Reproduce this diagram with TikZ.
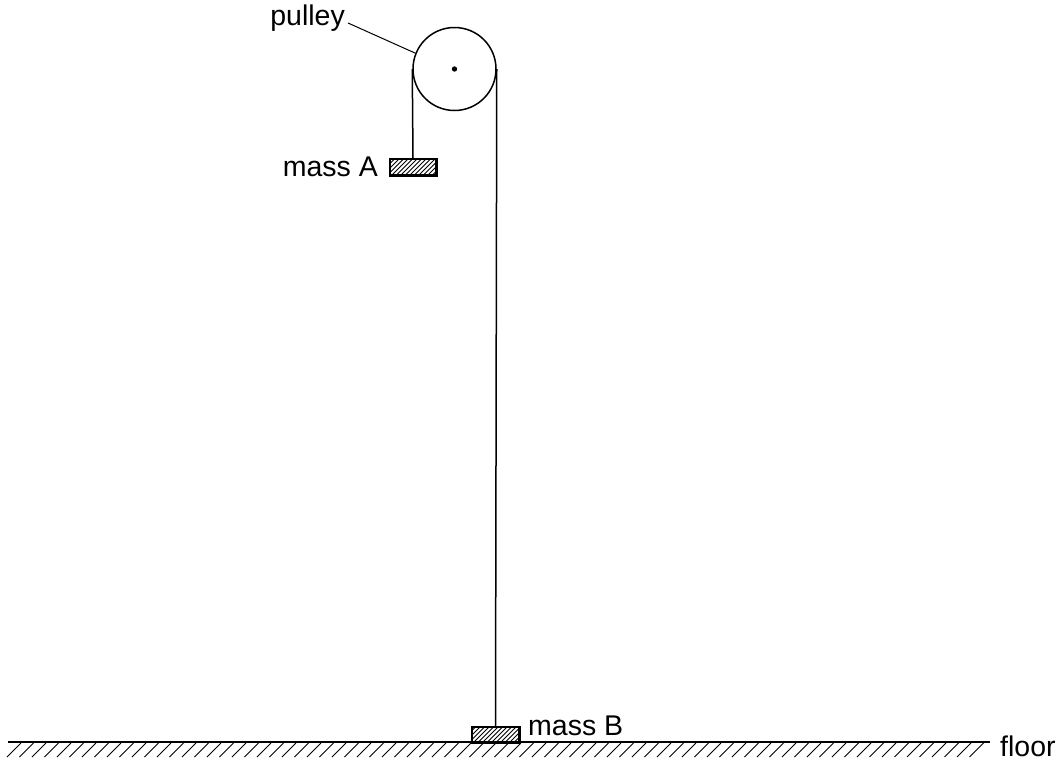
\documentclass[tikz,border=0pt]{standalone}
\usepackage{fontspec}
\setmainfont{Liberation Sans}
\usetikzlibrary{calc}
\begin{document}
\begin{tikzpicture}[x=1pt,y=-1pt,
  rope/.style={line width=1.5pt},
  massbox/.style={draw,line width=1.5pt,rectangle,inner sep=0pt},
  lbl/.style={font=\fontsize{28.5}{32}\selectfont,inner sep=0pt},
  hatch/.style={line width=0.9pt}]
\useasboundingbox (0,0) rectangle (1061,763);
% pulley
\node[circle,draw,line width=1.5pt,minimum size=83pt,inner sep=0pt] (pulley) at (454.5,69) {};
\fill (pulley.center) circle (2.7pt);
% masses
\node[massbox,minimum width=46pt,minimum height=16pt] (massA) at (413,167) {};
\node[massbox,minimum width=47pt,minimum height=15pt] (massB) at (495.5,734.5) {};
\begin{scope}
\clip (massA.south west) rectangle (massA.north east);
\foreach \i in {0,...,18} {\draw[hatch] ($(massA.south west)+(\i*4.5-16,0)$) -- ++(16,-16);}
\end{scope}
\begin{scope}
\clip (massB.south west) rectangle (massB.north east);
\foreach \i in {0,...,18} {\draw[hatch] ($(massB.south west)+(\i*4.5-16,0)$) -- ++(16,-16);}
\end{scope}
\draw[massbox] (massA.south west) rectangle (massA.north east);
\draw[massbox] (massB.south west) rectangle (massB.north east);
% ropes
\draw[rope] (pulley.west) -- (massA.north);
\draw[rope] (pulley.east) -- (massB.north);
% floor
\coordinate (fl) at (8,742);
\coordinate (fr) at (990,742);
\draw[line width=2pt] (fl) -- (fr);
\foreach \x in {7,19.5,...,975} {\draw[hatch] (\x,757) -- ++(14,-14);}
% labels
\node[lbl,anchor=base east] (pl) at (345,25) {pulley};
\draw[line width=1pt] ($(pl.base east)+(3,-2)$) -- (pulley.158);
\node[lbl,anchor=base east] (la) at (378,176) {mass A};
\node[lbl,anchor=base west] (lb) at (528,735) {mass B};
\node[lbl,anchor=base west] (lf) at (1000,756) {floor};
\end{tikzpicture}
\end{document}
